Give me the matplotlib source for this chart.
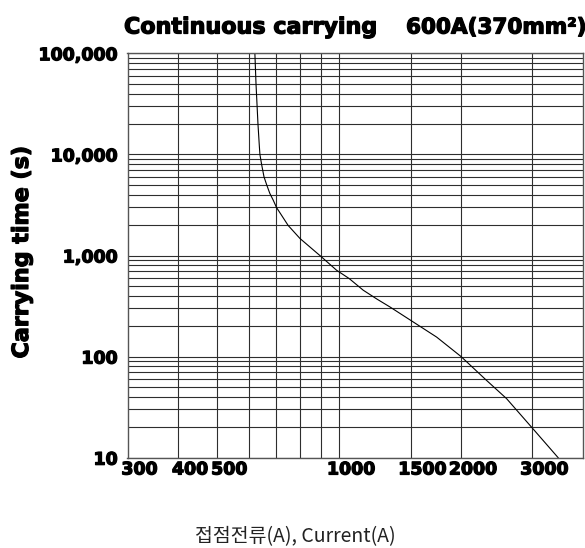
import matplotlib.pyplot as plt
from matplotlib import ticker
from matplotlib import patheffects
from matplotlib.transforms import ScaledTranslation

# Données (courant en A, temps en s)
courant = [619, 623, 630, 635, 637, 643, 652, 662, 674, 687, 700, 748, 800, 900,
           985, 1058, 1146, 1240, 1334, 1500, 1740, 2000, 2311, 2590, 3000, 3473]
temps = [100000, 50000, 20000, 12000, 10000, 8000, 6000, 5000, 4110, 3530, 2985,
         1982, 1473, 984, 715, 592, 454, 370, 310, 229, 156, 100, 58.2, 38.4, 19.6, 10]

# Graduations
x_majeurs = [300, 400, 500, 1000, 1500, 2000, 3000]
x_mineurs = [600, 700, 800, 900]
y_ticks = [10, 100, 1000, 10000, 100000]
y_labels = ["10", "100", "1,000", "10,000", "100,000"]

titre_gauche = "Continuous carrying"
titre_droite = "600A(370mm²)"
label_y = "Carrying time (s)"
label_x = "접점전류(A), Current(A)"

police = "DejaVu Sans"
couleur_grille = "#2e2e2e"
# Contour fin pour épaissir le texte gras
gras = [patheffects.withStroke(linewidth=0.9, foreground="black")]

fig = plt.figure(figsize=(5.85, 5.48), dpi=100)
ax = fig.add_axes([127.5 / 585, 1 - 457.7 / 548, (583 - 127.5) / 585, (457.7 - 53.3) / 548])

ax.plot(courant, temps, color="black", linewidth=0.8)

ax.set_xscale("log")
ax.set_yscale("log")
ax.set_xlim(300, 4000)
ax.set_ylim(10, 100000)

ax.set_xticks(x_majeurs)
ax.set_xticklabels([str(v) for v in x_majeurs], fontfamily=police,
                   fontweight="bold", fontsize=12.5)
ax.set_xticks(x_mineurs, minor=True)
ax.set_xticklabels([], minor=True)

ax.set_yticks(y_ticks)
ax.set_yticklabels(y_labels, fontfamily=police, fontweight="bold", fontsize=12.5)
ax.yaxis.set_minor_locator(ticker.LogLocator(base=10, subs=range(2, 10)))
ax.yaxis.set_minor_formatter(ticker.NullFormatter())

ax.tick_params(which="both", length=0)
ax.tick_params(axis="x", pad=2)
ax.tick_params(axis="y", pad=7)

# Décalage des étiquettes de l'axe x vers la droite
decalage = ScaledTranslation(12 / 100, 0, fig.dpi_scale_trans)
for lab in ax.get_xticklabels():
    lab.set_transform(lab.get_transform() + decalage)
    lab.set_path_effects(gras)
for lab in ax.get_yticklabels():
    lab.set_path_effects(gras)

ax.grid(True, which="both", color=couleur_grille, linewidth=0.8)
for cote in ax.spines.values():
    cote.set_color("#555555")
    cote.set_linewidth(1.0)

fig.text(124 / 585, 1 - 33.5 / 548, titre_gauche, fontfamily=police,
         fontweight="bold", fontsize=16, va="baseline", ha="left", path_effects=gras)
fig.text(406 / 585, 1 - 33.5 / 548, titre_droite, fontfamily=police,
         fontweight="bold", fontsize=15.5, va="baseline", ha="left", path_effects=gras)
fig.text(22 / 585, 1 - 252 / 548, label_y, fontfamily=police, fontweight="bold",
         fontsize=16, rotation=90, va="center", ha="center", path_effects=gras)
fig.text(295 / 585, 1 - 537 / 548, label_x, fontfamily=["Noto Sans CJK KR", "DejaVu Sans"],
         fontsize=14, va="center", ha="center", color="#222222")

fig.savefig("out.png", dpi=100)
